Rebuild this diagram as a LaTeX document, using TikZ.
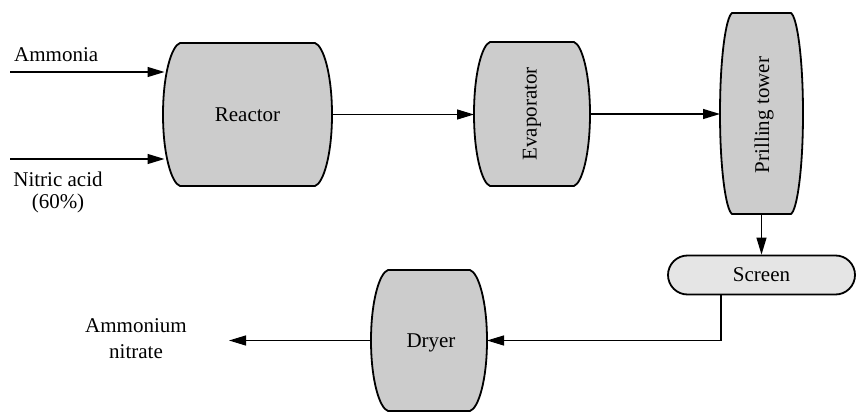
\documentclass[tikz,border=0pt]{standalone}
\usepackage{fontspec}
\setmainfont{Liberation Serif}
\usetikzlibrary{arrows.meta,calc}
\tikzset{
  unitshape/.style={draw=black, fill=gray!40, line width=1.8pt, line join=round},
  unitnode/.style={draw=none, inner sep=0pt, outer sep=0pt},
  flow/.style={line width=1.2pt, -{Triangle[length=17pt,width=10pt]}},
  lbl/.style={inner sep=0pt, font=\fontsize{21}{26}\selectfont},
}
\newcommand\procunit[7]{% name, xl, xr, top, bot, d, text-rotation
  \pgfmathsetmacro\ua{#2+#6}\pgfmathsetmacro\ub{#3-#6}
  \pgfmathsetmacro\um{(#4+#5)/2}\pgfmathsetmacro\hh{#5-#4}
  \pgfmathsetmacro\uw{#3-#2}\pgfmathsetmacro\ucx{(#2+#3)/2}
  \pgfmathsetmacro\ta{#4+0.02*\hh}\pgfmathsetmacro\tb{#4+0.22*\hh}
  \pgfmathsetmacro\ba{#5-0.02*\hh}\pgfmathsetmacro\bb{#5-0.22*\hh}
  \pgfmathsetmacro\ra{#3-0.5*#6}\pgfmathsetmacro\la{#2+0.5*#6}
  \draw[unitshape] (\ua,#4) -- (\ub,#4)
     .. controls (\ra,\ta) and (#3,\tb) .. (#3,\um)
     .. controls (#3,\bb) and (\ra,\ba) .. (\ub,#5)
     -- (\ua,#5)
     .. controls (\la,\ba) and (#2,\bb) .. (#2,\um)
     .. controls (#2,\tb) and (\la,\ta) .. cycle;
  \node[unitnode, minimum width=\uw pt, minimum height=\hh pt] (#1) at (\ucx,\um) {};
}
\begin{document}
\begin{tikzpicture}[x=1pt,y=-1pt]
\useasboundingbox (0,0) rectangle (857,412);
\procunit{reactor}{163}{332}{43}{186}{17}{0}
\procunit{evap}{474}{590}{42}{186}{16}{90}
\procunit{tower}{720}{803}{13}{214}{12}{90}
\procunit{dryer}{371}{487}{270}{411}{17}{0}
\node[lbl] (reactortxt) at (reactor.center) {Reactor};
\node[lbl, rotate=90] (evaptxt) at (532,114) {Evaporator};
\node[lbl, rotate=90] (towertxt) at (764,115) {Prilling tower};
\node[lbl] (dryertxt) at (431,343) {Dryer};
\node[draw=black, fill=gray!20, line width=1.8pt, rounded corners=19.5pt,
      minimum width=187pt, minimum height=39pt, inner sep=0pt,
      font=\fontsize{21}{26}\selectfont] (screen) at (761.5,275) {Screen};
% labels
\node[lbl, anchor=base west] (ammonia) at (14,62) {Ammonia};
\node[lbl, align=center] (nitric) at (58,192) {Nitric acid\\[-4pt](60\%)};
\node[lbl, align=center] (product) at (136,339) {Ammonium\\nitrate};
% connectors
\coordinate (a1) at (10,72);
\coordinate (a2) at (10,159);
\coordinate (p1) at (229,342);
\coordinate (s1) at (721,295);
\draw[flow] (a1) -- ($(a1 -| reactor.west)+(1.5,0)$);
\draw[flow] (a2) -- ($(a2 -| reactor.west)+(1.5,0)$);
\draw[flow] (reactor.east) -- (reactor.east -| evap.west);
\draw[flow] (evap.east) -- (evap.east -| tower.west);
\draw[flow] (tower.south -| screen.north) -- (screen.north);
\draw[flow] (s1) |- (dryer.east);
\draw[flow] (dryer.west) -- (dryer.west -| p1);
\end{tikzpicture}
\end{document}
